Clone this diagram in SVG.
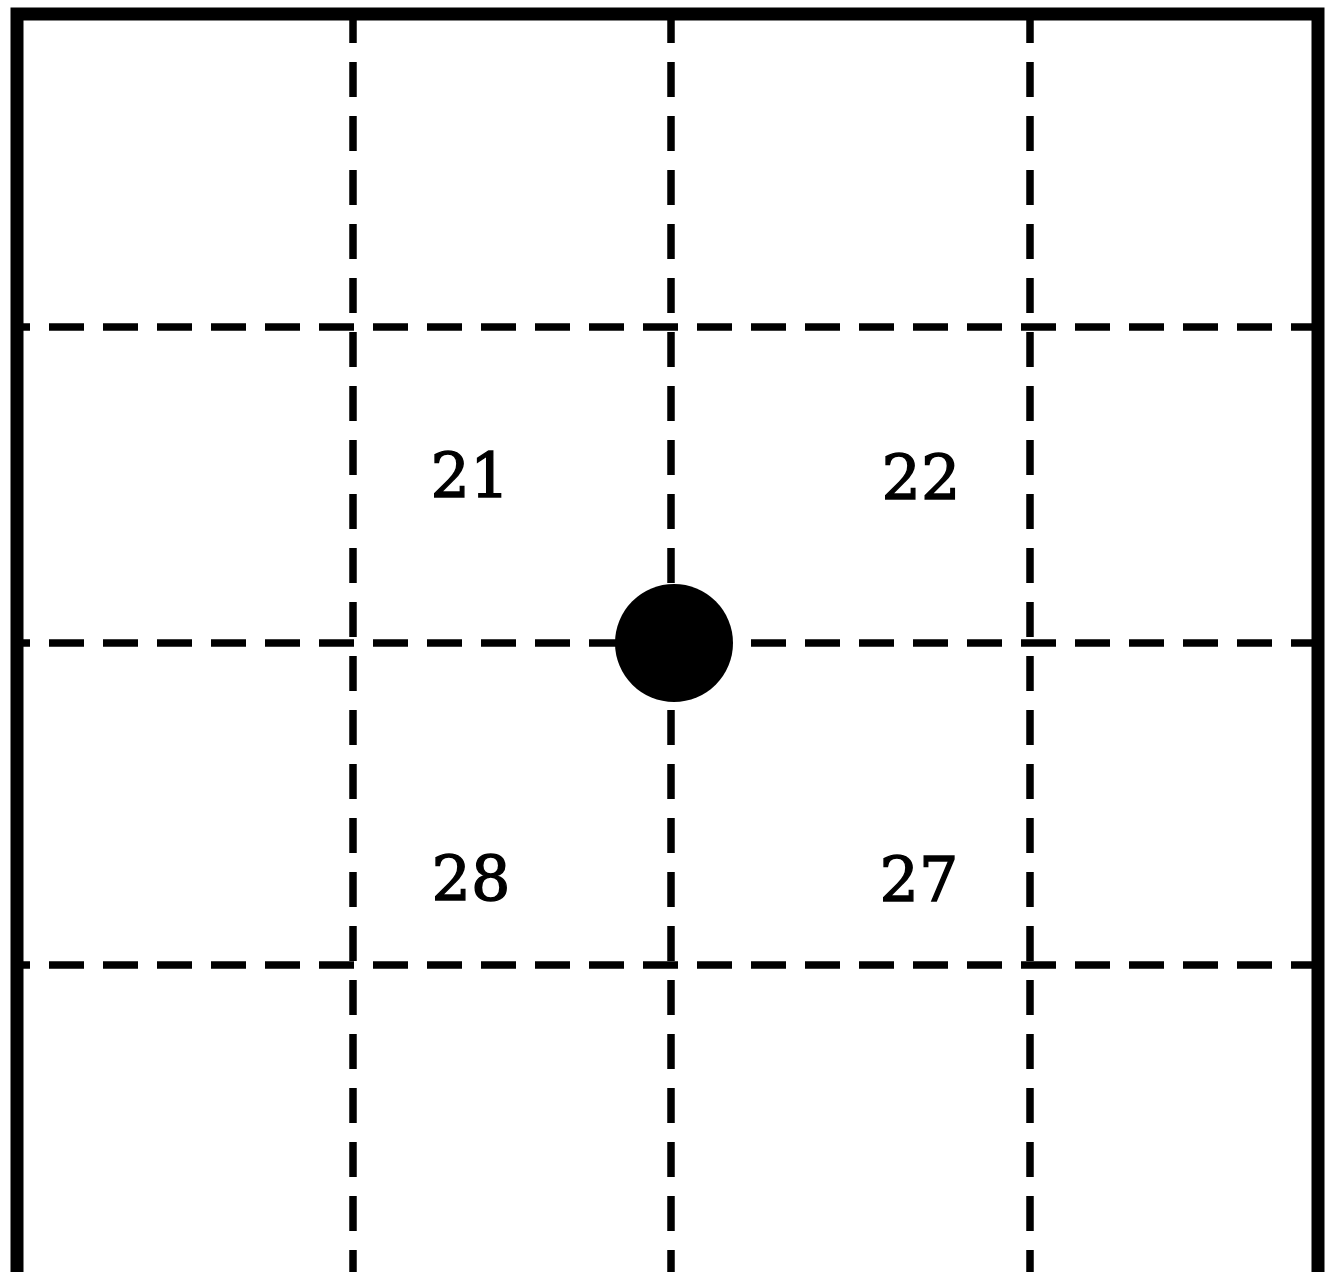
<svg xmlns="http://www.w3.org/2000/svg" width="1329" height="1272" viewBox="0 0 1329 1272">
<style>
.frame{fill:none;stroke:#000;stroke-width:13;stroke-linejoin:miter}
.grid{stroke:#000;stroke-width:7.5;stroke-dasharray:35 19;fill:none}
.h{stroke-dashoffset:28}
.v{stroke-dashoffset:12}
.lbl{font-family:"DejaVu Serif","Liberation Serif",serif;font-size:62px;fill:#000;stroke:#000;stroke-width:1.4;text-anchor:middle}
</style>
<rect width="1329" height="1272" fill="#fff"/>
<g id="frame">
<path class="frame" d="M17,1272 V14 H1318 V1272"/>
</g>
<g id="grid">
<line class="grid h" x1="23" y1="327" x2="1312" y2="327"/>
<line class="grid h" x1="23" y1="643" x2="1312" y2="643"/>
<line class="grid h" x1="23" y1="965" x2="1312" y2="965"/>
<line class="grid v" x1="353" y1="20" x2="353" y2="1272"/>
<line class="grid v" x1="671" y1="20" x2="671" y2="1272"/>
<line class="grid v" x1="1030" y1="20" x2="1030" y2="1272"/>
</g>
<g id="center-point">
<circle cx="674" cy="643" r="59" fill="#000"/>
</g>
<g id="label-21"><text class="lbl" x="470" y="497">21</text></g>
<g id="label-22"><text class="lbl" x="921" y="499">22</text></g>
<g id="label-28"><text class="lbl" x="471" y="900">28</text></g>
<g id="label-27"><text class="lbl" x="919" y="901">27</text></g>
</svg>
